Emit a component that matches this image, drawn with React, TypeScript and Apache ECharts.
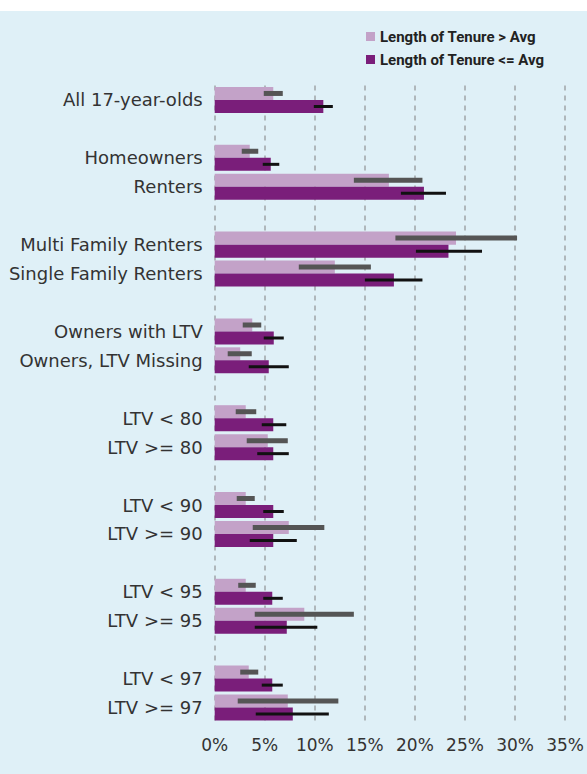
import React, { useEffect, useRef } from "react";
import * as echarts from "echarts";

const categories = [
  "All 17-year-olds", "",
  "Homeowners", "Renters", "",
  "Multi Family Renters", "Single Family Renters", "",
  "Owners with LTV", "Owners, LTV Missing", "",
  "LTV < 80", "LTV >= 80", "",
  "LTV < 90", "LTV >= 90", "",
  "LTV < 95", "LTV >= 95", "",
  "LTV < 97", "LTV >= 97",
];

const aboveAvg = [5.85, null, 3.5, 17.4, null, 24.1, 12.0, null, 3.75, 2.55, null, 3.1, 5.3, null, 3.1, 7.4, null, 3.1, 8.95, null, 3.4, 7.3];
const aboveLow = [4.9, null, 2.7, 13.9, null, 18.05, 8.4, null, 2.8, 1.3, null, 2.1, 3.2, null, 2.2, 3.8, null, 2.35, 4.0, null, 2.55, 2.3];
const aboveHigh = [6.8, null, 4.35, 20.75, null, 30.2, 15.6, null, 4.65, 3.7, null, 4.15, 7.3, null, 4.0, 10.95, null, 4.1, 13.9, null, 4.35, 12.35];

const belowAvg = [10.85, null, 5.6, 20.9, null, 23.35, 17.9, null, 5.9, 5.4, null, 5.85, 5.85, null, 5.85, 5.85, null, 5.75, 7.2, null, 5.75, 7.8];
const belowLow = [9.9, null, 4.8, 18.6, null, 20.1, 15.0, null, 4.9, 3.4, null, 4.7, 4.25, null, 4.85, 3.5, null, 4.85, 4.0, null, 4.7, 4.1];
const belowHigh = [11.8, null, 6.45, 23.1, null, 26.7, 20.75, null, 6.9, 7.4, null, 7.15, 7.4, null, 6.9, 8.2, null, 6.8, 10.25, null, 6.8, 11.4];

const seriesNames = ["Length of Tenure > Avg", "Length of Tenure <= Avg"];

const LIGHT = "#c3a2c8";
const DARK = "#7a1e7a";
const BG = "#dff0f7";

function errorData(low: (number | null)[], high: (number | null)[]) {
  const out: number[][] = [];
  low.forEach((l, i) => {
    const h = high[i];
    if (l != null && h != null) out.push([l, i, h]);
  });
  return out;
}

function makeRender(sign: number, thickness: number, color: string) {
  return (params: any, api: any) => {
    const low = api.value(0);
    const idx = api.value(1);
    const high = api.value(2);
    const p1 = api.coord([low, idx]);
    const p2 = api.coord([high, idx]);
    const band = api.size([0, 1])[1];
    const barW = (band * 0.9) / 2;
    const cy = p1[1] + (sign * barW) / 2;
    return {
      type: "rect",
      shape: { x: p1[0], y: cy - thickness / 2, width: p2[0] - p1[0], height: thickness },
      style: { fill: color },
    };
  };
}

export default function App() {
  const ref = useRef<HTMLDivElement>(null);
  useEffect(() => {
    if (!ref.current) return;
    const chart = echarts.init(ref.current, null, { renderer: "svg" });
    const font = "'DejaVu Sans', 'Open Sans', sans-serif";
    chart.setOption({
      animation: false,
      backgroundColor: BG,
      legend: {
        orient: "vertical",
        left: 361,
        top: 13,
        itemWidth: 9,
        itemHeight: 9,
        itemGap: 8,
        icon: "rect",
        data: seriesNames,
        textStyle: {
          fontFamily: "Roboto, sans-serif",
          fontWeight: "bold",
          fontSize: 15,
          color: "#222",
        },
      },
      grid: { left: 214.7, right: 21.3, top: 74.5, bottom: 52 },
      xAxis: {
        type: "value",
        min: 0,
        max: 35,
        interval: 5,
        axisLine: { show: false },
        axisTick: { show: false },
        axisLabel: {
          formatter: "{value}%",
          fontFamily: font,
          fontSize: 17,
          color: "#333",
          margin: 14,
        },
        splitLine: {
          show: true,
          lineStyle: { color: "#a0a4a8", width: 1.5, type: [5, 5] },
        },
      },
      yAxis: {
        type: "category",
        inverse: true,
        data: categories,
        axisLine: { show: false },
        axisTick: { show: false },
        axisLabel: {
          fontFamily: font,
          fontSize: 18,
          color: "#333",
          margin: 12,
        },
        splitLine: { show: false },
      },
      series: [
        {
          name: seriesNames[0],
          type: "bar",
          data: aboveAvg,
          itemStyle: { color: LIGHT },
          barGap: "0%",
          barCategoryGap: "10%",
        },
        {
          name: seriesNames[1],
          type: "bar",
          data: belowAvg,
          itemStyle: { color: DARK },
          barGap: "0%",
          barCategoryGap: "10%",
        },
        {
          type: "custom",
          z: 5,
          silent: true,
          renderItem: makeRender(-1, 5, "#555555"),
          encode: { x: [0, 2], y: 1 },
          data: errorData(aboveLow, aboveHigh),
        },
        {
          type: "custom",
          z: 5,
          silent: true,
          renderItem: makeRender(1, 3, "#111111"),
          encode: { x: [0, 2], y: 1 },
          data: errorData(belowLow, belowHigh),
        },
      ],
    });
    return () => chart.dispose();
  }, []);
  return (
    <div
      ref={ref}
      style={{ position: "absolute", left: 0, top: 11, width: 587, height: 763 }}
    />
  );
}
